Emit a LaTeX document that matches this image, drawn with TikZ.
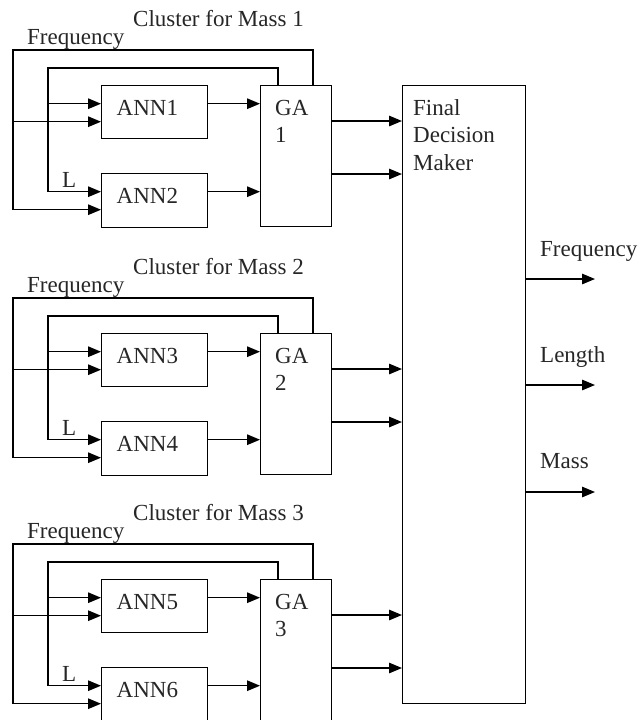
\documentclass[tikz,border=0pt]{standalone}
\usepackage{fontspec}
\setmainfont{Liberation Serif}
\usetikzlibrary{arrows.meta}
\begin{document}
\begin{tikzpicture}[x=1pt,y=-1pt,
  box/.style={draw,line width=1.4pt,rectangle,inner sep=0pt,anchor=north west},
  arr/.style={line width=1.4pt,-{Triangle[length=13pt,width=10.5pt]}},
  txt/.style={inner sep=0pt,anchor=base west,text=black!85,font=\fontsize{23}{27.5}\selectfont},
]
\clip (0,0) rectangle (640,720);
\node[box,minimum width=123pt,minimum height=618pt] (fdm) at (402,85) {};
\node[txt] (fdmtext) at (413,115) {\begin{tabular}[t]{@{}l@{}}Final\\Decision\\Maker\end{tabular}};
\foreach \ci/\off/\ka/\kb in {1/0/1/2,2/248/3/4,3/494/5/6}{
  \node[box,minimum width=106pt,minimum height=53pt] (ann\ka) at (101,{85+\off}) {};
  \node[box,minimum width=106pt,minimum height=54pt] (ann\kb) at (101,{173+\off}) {};
  \node[box,minimum width=71pt,minimum height=141pt] (ga\ci) at (260,{85+\off}) {};
  \node[txt] (annt\ka) at (116.5,{115+\off}) {ANN\ka};
  \node[txt] (annt\kb) at (116.5,{203+\off}) {ANN\kb};
  \node[txt] (gat\ci) at (275,{115+\off}) {\begin{tabular}[t]{@{}l@{}}GA\\\ci\end{tabular}};
  \node[txt] (clu\ci) at (133,{26+\off}) {Cluster for Mass \ci};
  \node[txt] (freq\ci) at (27,{44+\off}) {Frequency};
  \node[txt] (lab\ci) at (62,{187+\off}) {L};
  \coordinate (ti\ci) at (48,{68+\off});
  \coordinate (to\ci) at (13,{50+\off});
  \draw[arr] ([xshift=18pt]ga\ci.north west) |- (ti\ci) |- ([yshift=9pt]ann\kb.west);
  \draw[arr] ([yshift=8.5pt]ann\ka.west -| ti\ci) -- ([yshift=8.5pt]ann\ka.west);
  \draw[arr] ([xshift=53pt]ga\ci.north west) |- (to\ci) |- ([yshift=-9pt]ann\kb.west);
  \draw[arr] ([yshift=-9.5pt]ann\ka.west -| to\ci) -- ([yshift=-9.5pt]ann\ka.west);
  \draw[arr] ([yshift=8.5pt]ann\ka.east) -- ([yshift=8.5pt]ann\ka.east -| ga\ci.west);
  \draw[arr] ([yshift=9pt]ann\kb.east) -- ([yshift=9pt]ann\kb.east -| ga\ci.west);
  \draw[arr] ([yshift=-36pt]ga\ci.north east) -- ([yshift=-36pt]ga\ci.north east -| fdm.west);
  \draw[arr] ([yshift=-89pt]ga\ci.north east) -- ([yshift=-89pt]ga\ci.north east -| fdm.west);
}
\coordinate (o1) at (595,279);
\coordinate (o2) at (595,385);
\coordinate (o3) at (595,492);
\draw[arr] (fdm.east |- o1) -- (o1);
\draw[arr] (fdm.east |- o2) -- (o2);
\draw[arr] (fdm.east |- o3) -- (o3);
\node[txt] (outf) at (540,256) {Frequency};
\node[txt] (outl) at (540,362) {Length};
\node[txt] (outm) at (540,468) {Mass};
\end{tikzpicture}
\end{document}
